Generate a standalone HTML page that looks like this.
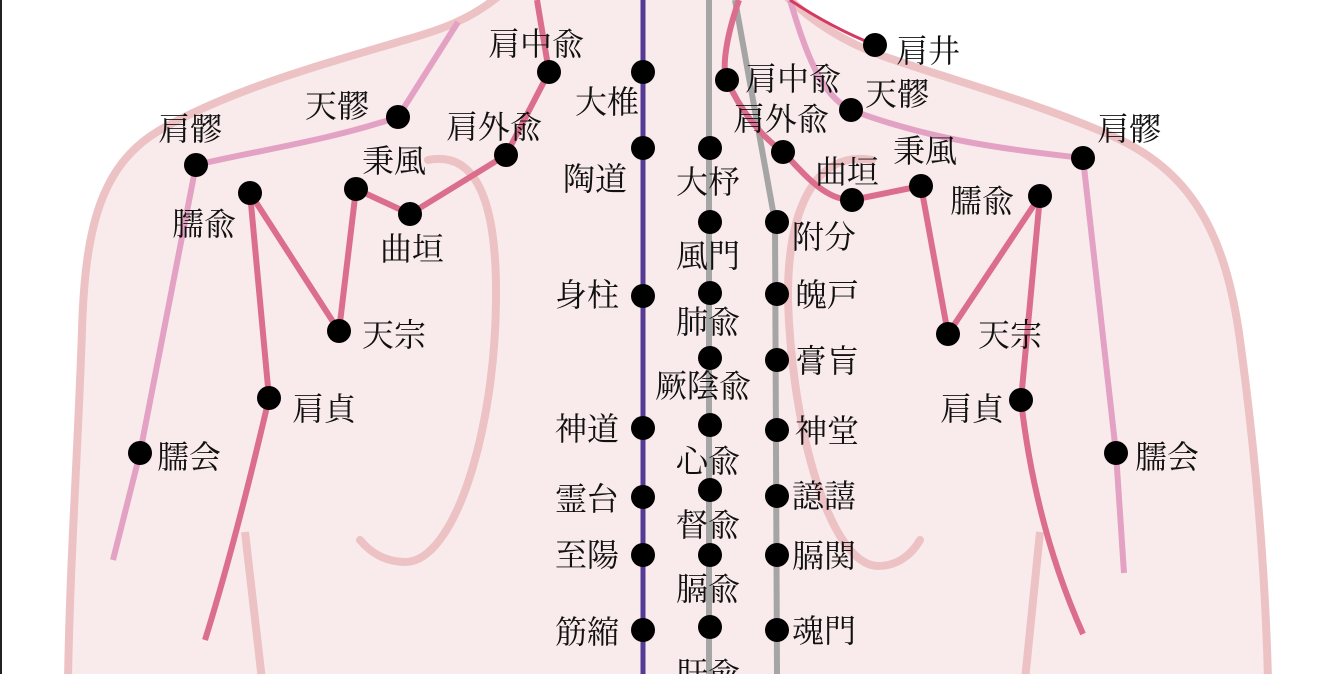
<!DOCTYPE html>
<html><head><meta charset="utf-8"><style>
html,body{margin:0;padding:0;background:#fff;}
svg{display:block;}
text{font-family:"Liberation Serif","Noto Serif CJK JP","Noto Serif CJK SC",serif;font-size:32px;fill:#111;}
</style></head><body>
<svg width="1334" height="674" viewBox="0 0 1334 674" xmlns="http://www.w3.org/2000/svg">
<rect x="0" y="0" width="1334" height="674" fill="#fff"/>
<path d="M500 -5 C470 20 440 30 405 40 C320 65 230 90 160 130 C100 165 85 230 82 330 C78 450 70 560 68 680 L1268 680 C1265 560 1255 450 1240 340 C1225 230 1190 170 1110 135 C1030 100 950 80 880 55 C840 40 810 20 785 -5 Z" fill="#f9ebec" stroke="#edc2c4" stroke-width="8"/>
<rect x="0" y="0" width="2" height="674" fill="#222"/>
<path d="M428 160 C480 150 497 210 496 300 C495 430 455 562 405 562 C385 562 370 552 360 540" fill="none" stroke="#edc2c4" stroke-width="8" stroke-linecap="round"/>
<path d="M872 160 C815 150 787 210 788 300 C792 430 830 565 878 566 C898 566 912 554 920 540" fill="none" stroke="#edc2c4" stroke-width="8" stroke-linecap="round"/>
<path d="M245 532 L262 680" stroke="#edc2c4" stroke-width="8" fill="none"/>
<path d="M1040 532 L1025 680" stroke="#edc2c4" stroke-width="8" fill="none"/>
<line x1="643" y1="0" x2="643" y2="674" stroke="#553a96" stroke-width="5"/>
<line x1="709" y1="0" x2="709" y2="674" stroke="#a5a5a5" stroke-width="6"/>
<path d="M735 0 L775 222 L777 674" stroke="#a5a5a5" stroke-width="6" fill="none"/>
<path d="M458 22 L398 117 C330 140 260 150 196 165 L140 453 L113 560" stroke="#e3a2c4" stroke-width="6" fill="none"/>
<path d="M790 0 C805 50 820 95 851 110 C930 140 1010 150 1083 158 L1116 453 L1124 573" stroke="#e3a2c4" stroke-width="6" fill="none"/>
<path d="M790 0 C820 20 850 35 875 45" stroke="#d33a63" stroke-width="3" fill="none"/>
<path d="M537 0 L549 72 L506 155 L410 214 L356 189 L339 331 L250 193 L269 398 C250 480 230 560 205 640" stroke="#dc6e8d" stroke-width="6" fill="none" stroke-linejoin="round"/>
<path d="M739 0 C725 40 722 70 727 80 C740 110 760 135 783 152 C805 175 825 200 852 200 L921 186 L948 334 L1040 196 L1021 400 C1030 480 1050 560 1083 634" stroke="#dc6e8d" stroke-width="6" fill="none" stroke-linejoin="round"/>
<g fill="#000">
<circle cx="549" cy="72" r="12"/><circle cx="398" cy="117" r="12"/><circle cx="506" cy="155" r="12"/><circle cx="196" cy="165" r="12"/><circle cx="356" cy="189" r="12"/><circle cx="250" cy="193" r="12"/><circle cx="410" cy="214" r="12"/><circle cx="339" cy="331" r="12"/><circle cx="269" cy="398" r="12"/><circle cx="140" cy="453" r="12"/>
<circle cx="643" cy="72" r="12"/><circle cx="643" cy="148" r="12"/><circle cx="643" cy="296" r="12"/><circle cx="643" cy="428" r="12"/><circle cx="643" cy="497" r="12"/><circle cx="643" cy="555" r="12"/><circle cx="643" cy="630" r="12"/>
<circle cx="710" cy="148" r="12"/><circle cx="710" cy="222" r="12"/><circle cx="710" cy="293" r="12"/><circle cx="710" cy="358" r="12"/><circle cx="710" cy="425" r="12"/><circle cx="710" cy="490" r="12"/><circle cx="710" cy="555" r="12"/><circle cx="710" cy="627" r="12"/>
<circle cx="777" cy="222" r="12"/><circle cx="777" cy="294" r="12"/><circle cx="777" cy="360" r="12"/><circle cx="777" cy="430" r="12"/><circle cx="777" cy="496" r="12"/><circle cx="777" cy="555" r="12"/><circle cx="777" cy="630" r="12"/>
<circle cx="727" cy="80" r="12"/><circle cx="783" cy="152" r="12"/><circle cx="875" cy="45" r="12"/><circle cx="851" cy="110" r="12"/><circle cx="852" cy="200" r="12"/><circle cx="921" cy="186" r="12"/><circle cx="1040" cy="196" r="12"/><circle cx="1083" cy="158" r="12"/><circle cx="948" cy="334" r="12"/><circle cx="1021" cy="400" r="12"/><circle cx="1116" cy="453" r="12"/>
</g>
<text x="488" y="55">肩中兪</text>
<text x="575" y="113">大椎</text>
<text x="305" y="117">天髎</text>
<text x="446" y="138">肩外兪</text>
<text x="158" y="140">肩髎</text>
<text x="563" y="190">陶道</text>
<text x="362" y="172">秉風</text>
<text x="172" y="235">臑兪</text>
<text x="380" y="260">曲垣</text>
<text x="555" y="306">身柱</text>
<text x="362" y="346">天宗</text>
<text x="292" y="420">肩貞</text>
<text x="157" y="468">臑会</text>
<text x="555" y="440">神道</text>
<text x="555" y="510">霊台</text>
<text x="555" y="566">至陽</text>
<text x="555" y="643">筋縮</text>
<text x="676" y="193">大杼</text>
<text x="676" y="267">風門</text>
<text x="676" y="333">肺兪</text>
<text x="655" y="397">厥陰兪</text>
<text x="676" y="472">心兪</text>
<text x="676" y="536">督兪</text>
<text x="676" y="600">膈兪</text>
<text x="676" y="685">肝兪</text>
<text x="792" y="248">附分</text>
<text x="795" y="306">魄戸</text>
<text x="795" y="372">膏肓</text>
<text x="795" y="442">神堂</text>
<text x="792" y="507">譩譆</text>
<text x="792" y="567">膈関</text>
<text x="792" y="642">魂門</text>
<text x="745" y="90">肩中兪</text>
<text x="733" y="130">肩外兪</text>
<text x="896" y="62">肩井</text>
<text x="865" y="105">天髎</text>
<text x="815" y="183">曲垣</text>
<text x="893" y="162">秉風</text>
<text x="950" y="212">臑兪</text>
<text x="1097" y="140">肩髎</text>
<text x="978" y="346">天宗</text>
<text x="940" y="420">肩貞</text>
<text x="1135" y="468">臑会</text>
</svg>
</body></html>
